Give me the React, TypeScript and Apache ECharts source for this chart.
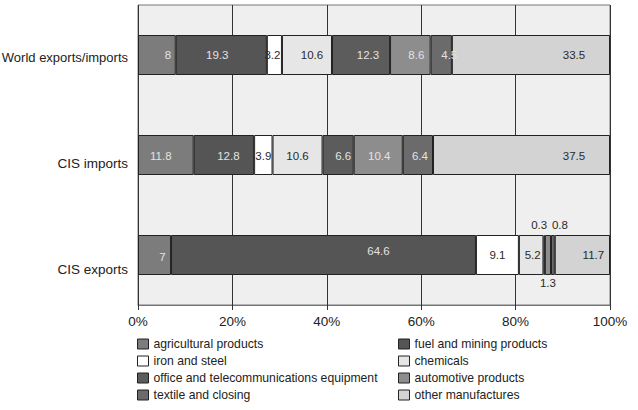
import React, { useEffect, useRef } from "react";
import * as echarts from "echarts";

// Product-group shares of trade, percent of total
const categories = ["World exports/imports", "CIS imports", "CIS exports"];
const agricultural = [8, 11.8, 7];
const fuelMining = [19.3, 12.8, 64.6];
const ironSteel = [3.2, 3.9, 9.1];
const chemicals = [10.6, 10.6, 5.2];
const officeTelecom = [12.3, 6.6, 0.3];
const automotive = [8.6, 10.4, 1.3];
const textile = [4.5, 6.4, 0.8];
const otherManufactures = [33.5, 37.5, 11.7];
const xTickValues = [0, 20, 40, 60, 80, 100];

const LIGHT_TEXT = "#e2e2e2";
const DARK_TEXT = "#2a2a2a";

type LabelTweak = { dx: number; dy: number; pos?: "top" | "bottom" };

// Per-segment label nudges (one entry per category row)
const seriesDefs: {
  name: string;
  data: number[];
  color: string;
  text: string;
  tweaks: LabelTweak[];
}[] = [
  { name: "agricultural products", data: agricultural, color: "#7c7c7c", text: LIGHT_TEXT,
    tweaks: [{ dx: 11, dy: 0 }, { dx: -5, dy: 1 }, { dx: 8, dy: 2 }] },
  { name: "fuel and mining products", data: fuelMining, color: "#555555", text: LIGHT_TEXT,
    tweaks: [{ dx: -4, dy: 0 }, { dx: 4.5, dy: 1 }, { dx: 55, dy: -4 }] },
  { name: "iron and steel", data: ironSteel, color: "#ffffff", text: DARK_TEXT,
    tweaks: [{ dx: -2, dy: 0 }, { dx: 0, dy: 1 }, { dx: 0, dy: 0 }] },
  { name: "chemicals", data: chemicals, color: "#e6e6e6", text: DARK_TEXT,
    tweaks: [{ dx: 5, dy: 0 }, { dx: 0, dy: 1 }, { dx: 1.5, dy: 0 }] },
  { name: "office and telecommunications equipment", data: officeTelecom, color: "#5c5c5c", text: LIGHT_TEXT,
    tweaks: [{ dx: 7, dy: 0 }, { dx: 5, dy: 1 }, { dx: -5, dy: 0, pos: "top" }] },
  { name: "automotive products", data: automotive, color: "#8d8d8d", text: LIGHT_TEXT,
    tweaks: [{ dx: 6, dy: 0 }, { dx: 1, dy: 1 }, { dx: 0, dy: 0, pos: "bottom" }] },
  { name: "textile and closing", data: textile, color: "#6b6b6b", text: LIGHT_TEXT,
    tweaks: [{ dx: 8, dy: 0 }, { dx: 2, dy: 1 }, { dx: 7, dy: 0, pos: "top" }] },
  { name: "other manufactures", data: otherManufactures, color: "#d3d3d3", text: DARK_TEXT,
    tweaks: [{ dx: 43, dy: 0 }, { dx: 52.5, dy: 1 }, { dx: 11, dy: 0 }] },
];

// Row titles sit a little below their bars; top padding pushes each one down
const categoryRich: Record<string, any> = {
  r0: { padding: [4, 0, 0, 0], fontSize: 13, color: "#222" },
  r1: { padding: [16, 0, 0, 0], fontSize: 13.5, color: "#222" },
  r2: { padding: [29, 0, 0, 0], fontSize: 13.5, color: "#222" },
};

const legendLeftColumn = [0, 2, 4, 6].map((i) => seriesDefs[i].name);
const legendRightColumn = [1, 3, 5, 7].map((i) => seriesDefs[i].name);

export default function App() {
  const ref = useRef<HTMLDivElement>(null);

  useEffect(() => {
    if (!ref.current) return;
    const chart = echarts.init(ref.current, undefined, { renderer: "svg" });

    const legendBase = {
      orient: "vertical" as const,
      top: 333,
      itemWidth: 11,
      itemHeight: 10,
      itemGap: 5,
      icon: "rect",
      selectedMode: false,
      itemStyle: { borderColor: "#222", borderWidth: 1 },
      textStyle: { fontSize: 12.2, color: "#222", fontFamily: "Liberation Sans" },
    };

    chart.setOption({
      animation: false,
      backgroundColor: "#ffffff",
      textStyle: { fontFamily: "Liberation Sans" },
      grid: {
        left: 138,
        right: 28,
        top: 5,
        height: 300,
        outerBoundsMode: "none",
        containLabel: false,
        show: true,
        backgroundColor: "#efefef",
        borderColor: "#777",
        borderWidth: 1,
      },
      xAxis: {
        type: "value",
        min: 0,
        max: 100,
        interval: 20,
        axisLine: { show: true, lineStyle: { color: "#777", width: 1 } },
        axisTick: { show: true, length: 5, lineStyle: { color: "#333" } },
        splitLine: { show: true, lineStyle: { color: "#333", width: 1 } },
        axisLabel: {
          margin: 9,
          fontSize: 13.5,
          color: "#222",
          formatter: (v: number) => (xTickValues.includes(v) ? `${v}%` : ""),
        },
      },
      yAxis: {
        type: "category",
        inverse: true,
        data: categories,
        axisLine: { show: false },
        axisTick: { show: false },
        splitLine: { show: false },
        axisLabel: {
          margin: 10,
          formatter: (v: string, i: number) => `{r${i}|${v}}`,
          rich: categoryRich,
        },
      },
      legend: [
        { ...legendBase, left: 132, data: legendLeftColumn },
        { ...legendBase, left: 393, data: legendRightColumn },
      ],
      series: seriesDefs.map((s) => ({
        name: s.name,
        type: "bar",
        stack: "share",
        barWidth: 40,
        itemStyle: { color: s.color, borderColor: "#222", borderWidth: 1 },
        data: s.data.map((v, i) => {
          const t = s.tweaks[i];
          return {
            value: v,
            label: {
              show: true,
              position: t.pos ?? "inside",
              distance: t.pos === "bottom" ? 2 : 4,
              offset: [t.dx, t.dy],
              color: t.pos ? DARK_TEXT : s.text,
            },
          };
        }),
        label: {
          show: true,
          fontSize: 11.5,
          formatter: (p: any) => String(p.value),
        },
      })),
    });

    return () => chart.dispose();
  }, []);

  return (
    <div
      ref={ref}
      style={{ position: "fixed", left: 0, top: 0, width: 638, height: 410 }}
    />
  );
}
